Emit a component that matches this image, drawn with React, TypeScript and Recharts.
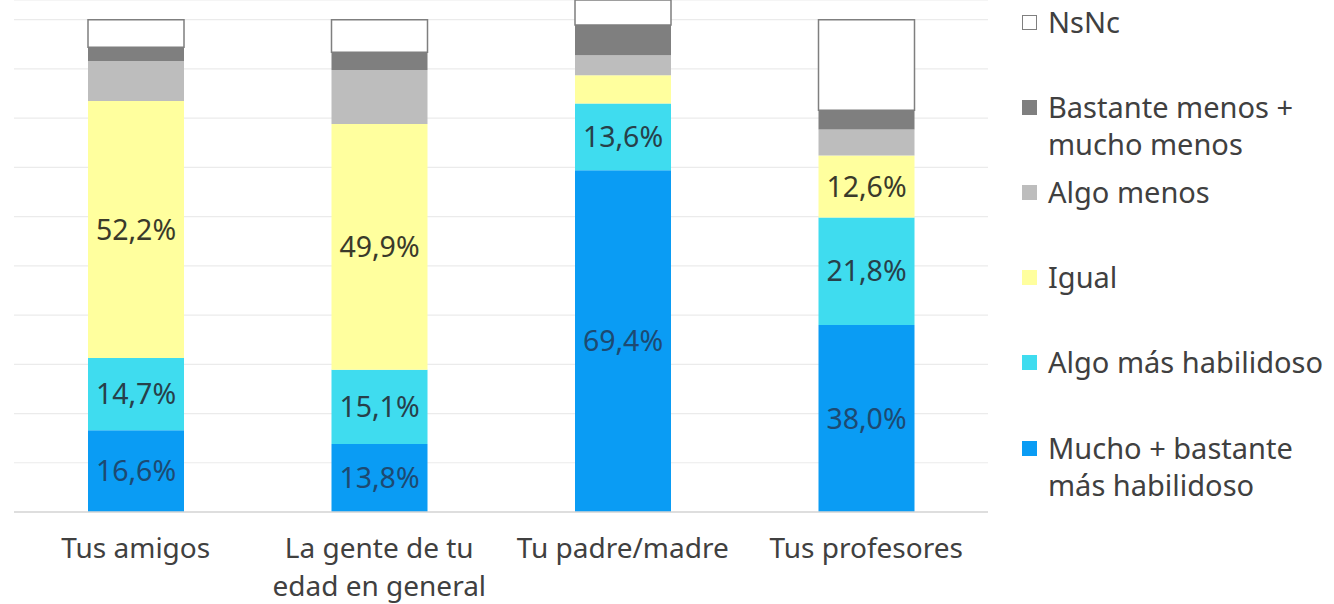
import React from 'react';
import { BarChart, Bar, XAxis, YAxis, CartesianGrid, Legend, LabelList } from 'recharts';

const categories = ['Tus amigos', 'La gente de tu\nedad en general', 'Tu padre/madre', 'Tus profesores'];
const muchoMas = [16.6, 13.8, 69.4, 38.0];
const algoMas = [14.7, 15.1, 13.6, 21.8];
const igual = [52.2, 49.9, 5.7, 12.6];
const algoMenos = [8.1, 11.0, 4.1, 5.3];
const bastanteMenos = [2.8, 3.6, 6.1, 3.9];
const nsnc = [5.6, 6.6, 6.5, 18.4];

const seriesKeys = ['muchoMas', 'algoMas', 'igual', 'algoMenos', 'bastanteMenos', 'nsnc'];
const seriesNames = [
  'Mucho + bastante\nmás habilidoso',
  'Algo más habilidoso',
  'Igual',
  'Algo menos',
  'Bastante menos +\nmucho menos',
  'NsNc',
];
const seriesColors = ['#0a9cf4', '#3fdcef', '#ffff9e', '#bdbdbd', '#7f7f7f', '#ffffff'];
const labelColors = ['#1d4a72', '#27404a', '#3a3a2a', '#333333', '#333333', '#333333'];
const labelled = [true, true, true, false, false, false];
const yTicks = [0, 10, 20, 30, 40, 50, 60, 70, 80, 90, 100];

const data = categories.map((c, i) => ({
  name: c,
  muchoMas: muchoMas[i],
  algoMas: algoMas[i],
  igual: igual[i],
  algoMenos: algoMenos[i],
  bastanteMenos: bastanteMenos[i],
  nsnc: nsnc[i],
}));

const FONT = '"Noto Sans", sans-serif';

const CategoryTick = (props: any) => {
  const { x, y, payload } = props;
  const lines = String(payload.value).split('\n');
  return (
    <g transform={`translate(${x},${y})`}>
      {lines.map((l: string, i: number) => (
        <text key={i} x={0} y={46 + i * 38} textAnchor="middle" fill="#404040" fontSize={28} fontFamily={FONT}>
          {l}
        </text>
      ))}
    </g>
  );
};

const fmt = (v: any) => {
  const n = Number(v);
  if (!(n >= 10)) return '';
  return n.toFixed(1).replace('.', ',') + '%';
};

const LegendContent = (props: any) => {
  const payload = (props.payload || []).slice();
  payload.sort((a: any, b: any) => seriesKeys.indexOf(b.dataKey) - seriesKeys.indexOf(a.dataKey));
  return (
    <div style={{ position: 'relative', width: 314, height: 520, fontFamily: FONT }}>
      {payload.map((p: any, i: number) => {
        const isNs = p.dataKey === 'nsnc';
        return (
          <div key={i} style={{ position: 'absolute', left: 0, top: 2.6 + i * 85.2, width: 314 }}>
            <div
              style={{
                position: 'absolute',
                left: 2,
                top: 12,
                width: isNs ? 13 : 15,
                height: isNs ? 13 : 15,
                background: p.color,
                border: isNs ? '1px solid #7f7f7f' : 'none',
              }}
            />
            <div
              style={{
                position: 'absolute',
                left: 28,
                top: 0,
                fontSize: 29,
                lineHeight: '37px',
                color: '#404040',
                whiteSpace: 'pre',
              }}
            >
              {p.value}
            </div>
          </div>
        );
      })}
    </div>
  );
};

export default function App() {
  return (
    <div style={{ position: 'absolute', left: 0, top: 0, width: 1334, height: 604, background: '#fff' }}>
      <BarChart
        width={1334}
        height={604}
        data={data}
        margin={{ top: 0, right: 346, bottom: 0, left: 14 }}
        barCategoryGap="30%"
      >
        <CartesianGrid vertical={false} stroke="#ebebeb" strokeWidth={1.2} />
        <XAxis
          dataKey="name"
          axisLine={{ stroke: '#d6d6d6', strokeWidth: 1.5 }}
          tickLine={false}
          tickSize={0}
          tickMargin={0}
          height={92}
          interval={0}
          tick={<CategoryTick />}
        />
        <YAxis hide domain={[0, 104]} ticks={yTicks} allowDataOverflow />
        <Legend
          layout="vertical"
          align="center"
          verticalAlign="middle"
          wrapperStyle={{ left: 1020, top: 0, width: 314, height: 520 }}
          content={<LegendContent />}
        />
        {seriesKeys.map((k, i) => (
          <Bar
            key={k}
            dataKey={k}
            name={seriesNames[i]}
            stackId="a"
            fill={seriesColors[i]}
            stroke={k === 'nsnc' ? '#7f7f7f' : 'none'}
            strokeWidth={k === 'nsnc' ? 1.5 : 0}
            barSize={96}
            isAnimationActive={false}
          >
            {labelled[i] && (
              <LabelList
                dataKey={k}
                position="center"
                formatter={fmt}
                fill={labelColors[i]}
                fontSize={28.5}
                fontFamily={FONT}
              />
            )}
          </Bar>
        ))}
      </BarChart>
    </div>
  );
}
